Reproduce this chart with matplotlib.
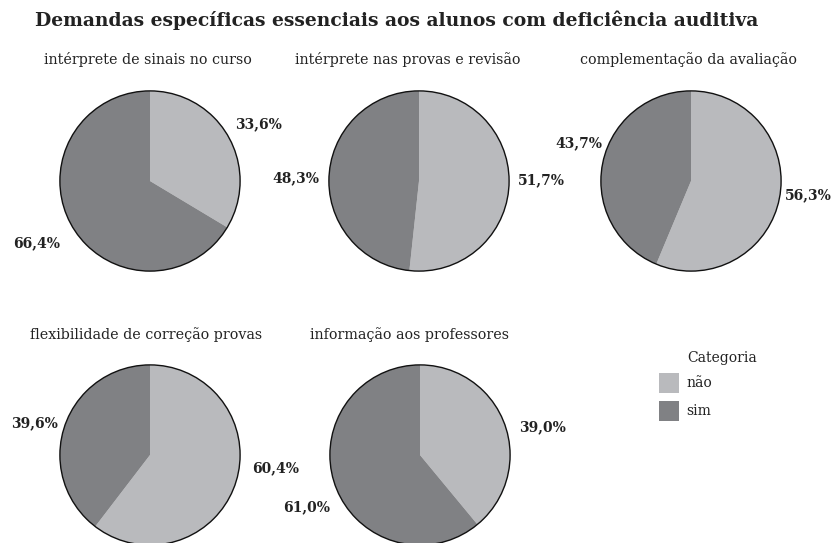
import matplotlib
matplotlib.use("Agg")
import matplotlib.pyplot as plt
from matplotlib.patches import Rectangle

# dados
titulos = ["intérprete de sinais no curso", "intérprete nas provas e revisão",
           "complementação da avaliação", "flexibilidade de correção provas",
           "informação aos professores"]
nao = [33.6, 51.7, 56.3, 60.4, 39.0]
sim = [66.4, 48.3, 43.7, 39.6, 61.0]
categorias = ["não", "sim"]
cores = ["#b9babd", "#808184"]

W, H = 839, 543
plt.rcParams['font.family'] = ['DejaVu Serif']
fig = plt.figure(figsize=(W / 100, H / 100), dpi=100)

def fx(x):
    return x / W

def fy(y):
    return 1 - y / H

fig.text(fx(35), fy(20), "Demandas específicas essenciais aos alunos com deficiência auditiva",
         fontsize=13.5, fontweight="bold", va="center", ha="left", color="#222222")

# layout (pixels): centro das pizzas, títulos e rótulos
centros = [(150, 181), (419, 181), (691, 181), (150, 455), (420, 455)]
sub_pos = [(148, 60), (408, 60), (689, 60), (146, 335), (410, 335)]
rot_nao = [(258, 124), (541, 180), (808, 195), (276, 468), (543, 427)]
rot_sim = [(37, 243), (296, 178), (579, 143), (34, 423), (307, 507)]
r = 91

for i in range(5):
    cx, cy = centros[i]
    ax = fig.add_axes([fx(cx - r), fy(cy + r), 2 * r / W, 2 * r / H])
    vals = [nao[i], sim[i]]
    ax.pie(vals, colors=cores, startangle=90, counterclock=False,
           wedgeprops=dict(linewidth=0))
    ax.add_patch(plt.Circle((0, 0), 1, fill=False, edgecolor="#111111", linewidth=1))
    ax.set_xlim(-1.01, 1.01)
    ax.set_ylim(-1.01, 1.01)
    ax.set_aspect("equal")
    fig.text(fx(sub_pos[i][0]), fy(sub_pos[i][1]), titulos[i], fontsize=10.3,
             ha="center", va="center", color="#222222")
    for v, (px, py) in zip(vals, [rot_nao[i], rot_sim[i]]):
        fig.text(fx(px), fy(py), ("%.1f%%" % v).replace(".", ","), fontsize=10,
                 fontweight="bold", ha="center", va="center", color="#222222")

# legenda
fig.text(fx(687), fy(358), "Categoria", fontsize=10, ha="left", va="center", color="#222222")
for k, (cat, c) in enumerate(zip(categorias, cores)):
    y0 = 373 + 28 * k
    fig.patches.append(Rectangle((fx(659), fy(y0 + 20)), 20 / W, 20 / H, facecolor=c,
                                 edgecolor="none", transform=fig.transFigure, figure=fig))
    fig.text(fx(686), fy(y0 + 10), cat, fontsize=10, ha="left", va="center", color="#222222")

fig.savefig("out.png", dpi=100)
